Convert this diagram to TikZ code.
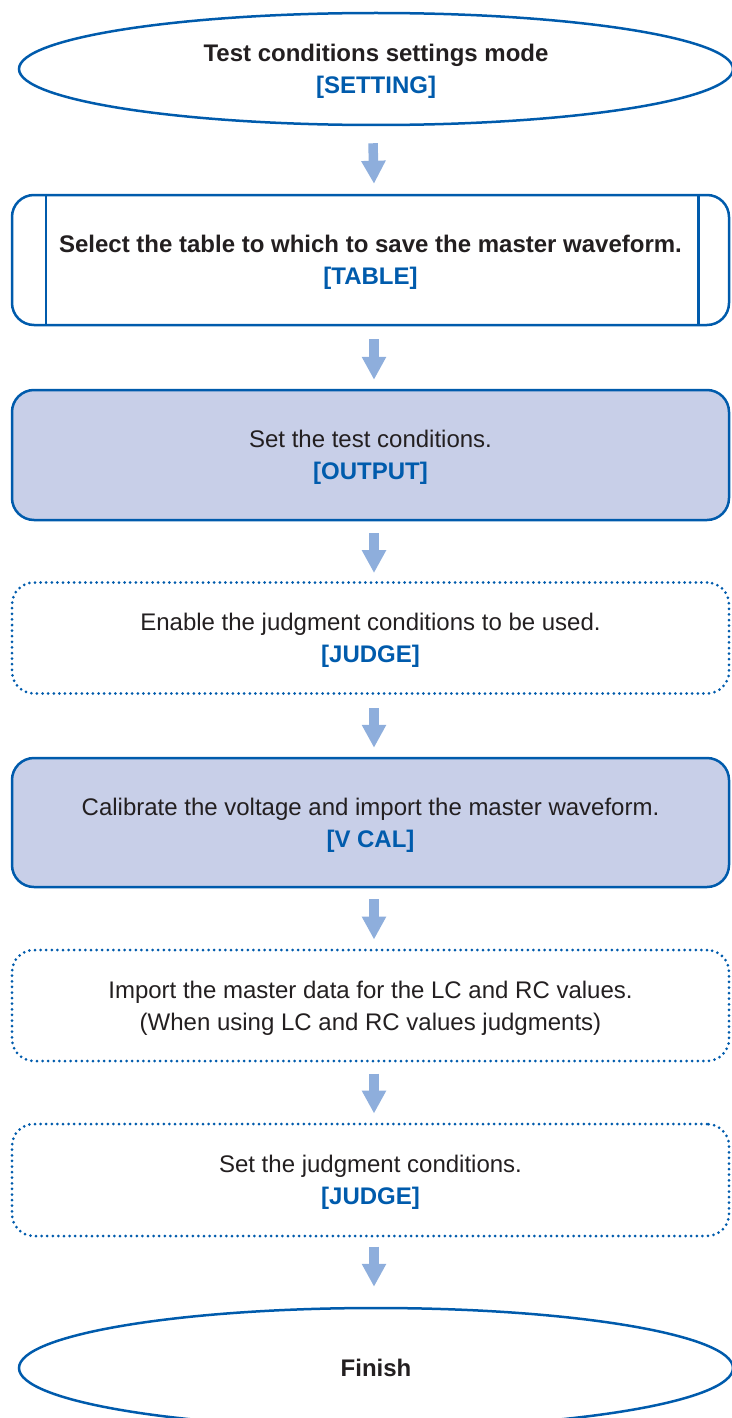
\documentclass[tikz,border=0pt]{standalone}
\usepackage{fontspec}
\setmainfont{Liberation Sans}
\usepackage{xcolor}
\usepackage{tikz}
\usetikzlibrary{arrows.meta,shapes.geometric}
\definecolor{lineblue}{RGB}{0, 91, 172}
\definecolor{boxfill}{RGB}{200, 207, 232}
\definecolor{arrowblue}{RGB}{142, 174, 220}
\definecolor{textblack}{RGB}{35, 31, 32}

\newcommand{\keyname}[1]{{\bfseries\color{lineblue}#1}}

\begin{document}
\begin{tikzpicture}[x=1pt, y=-1pt,
    every node/.style={text=textblack, align=center, text depth=0pt, font=\fontsize{24}{32}\selectfont},
    terminal/.style={ellipse, draw=lineblue, line width=2.5pt, minimum width=714pt, minimum height=112pt, inner sep=0pt},
    procbox/.style={rectangle, rounded corners=22pt, draw=lineblue, line width=2.5pt, minimum width=717pt, minimum height=130pt, inner sep=0pt},
    fillbox/.style={procbox, fill=boxfill},
    dotbox/.style={procbox, minimum height=111pt, line width=3pt, line cap=round, dash pattern=on 0pt off 5.6pt},
    flowarrow/.style={draw=arrowblue, line width=9.5pt, -{Triangle[width=23pt, length=23pt]}, arrowblue}]
  \useasboundingbox (0,0) rectangle (731,1418);

  % Steps
  \node[terminal] (setting) at (376,69) {\bfseries Test conditions settings mode\\ \keyname{[SETTING]}};
  \node[procbox] (table) at (370.5,260) {\bfseries Select the table to which to save the master waveform.\\ \keyname{[TABLE]}};
  \draw[lineblue, line width=2.5pt] ([xshift=35pt]table.north west) -- ([xshift=35pt]table.south west);
  \draw[lineblue, line width=2.5pt] ([xshift=-32pt]table.north east) -- ([xshift=-32pt]table.south east);
  \node[fillbox] (output) at (370.5,455) {Set the test conditions.\\ \keyname{[OUTPUT]}};
  \node[dotbox] (enable) at (370.5,638) {Enable the judgment conditions to be used.\\ \keyname{[JUDGE]}};
  \node[fillbox, minimum height=129pt] (vcal) at (370.5,822.5) {Calibrate the voltage and import the master waveform.\\ \keyname{[V CAL]}};
  \node[dotbox] (master) at (370.5,1005.5) {Import the master data for the LC and RC values.\\ (When using LC and RC values judgments)};
  \node[dotbox, minimum height=112pt] (judge) at (370.5,1180) {Set the judgment conditions.\\ \keyname{[JUDGE]}};
  \node[terminal, minimum height=120pt] (finish) at (376,1368) {\bfseries Finish};

  % Arrows
  \draw[flowarrow] ([xshift=-3pt, yshift=-17pt]setting.south) -- ([xshift=3.5pt, yshift=10pt]table.north);
  \draw[flowarrow] ([xshift=3.5pt, yshift=-13pt]table.south) -- ([xshift=3.5pt, yshift=9pt]output.north);
  \draw[flowarrow] ([xshift=3.5pt, yshift=-12pt]output.south) -- ([xshift=3.5pt, yshift=8pt]enable.north);
  \draw[flowarrow] ([xshift=3.5pt, yshift=-13pt]enable.south) -- ([xshift=3.5pt, yshift=9pt]vcal.north);
  \draw[flowarrow] ([xshift=3.5pt, yshift=-11pt]vcal.south) -- ([xshift=3.5pt, yshift=9pt]master.north);
  \draw[flowarrow] ([xshift=3.5pt, yshift=-11pt]master.south) -- ([xshift=3.5pt, yshift=9pt]judge.north);
  \draw[flowarrow] ([xshift=3.5pt, yshift=-9pt]judge.south) -- ([xshift=-2pt, yshift=20pt]finish.north);
\end{tikzpicture}
\end{document}
